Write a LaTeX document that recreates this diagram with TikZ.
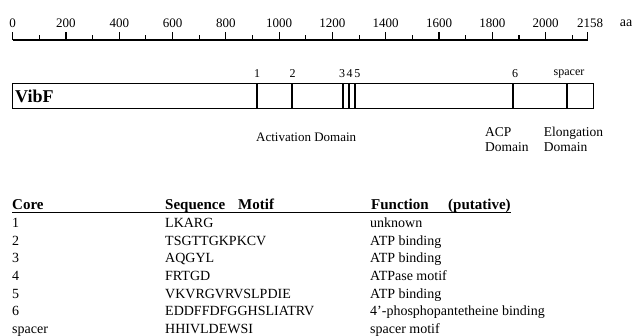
\documentclass[tikz,border=0pt]{standalone}
\usepackage{fontspec}
\setmainfont{Liberation Serif}
\begin{document}
\begin{tikzpicture}[x=1pt,y=-1pt,
  lbl/.style={inner sep=0pt,font=\fontsize{13}{14}\selectfont},
  barlbl/.style={inner sep=0pt,font=\fontsize{12}{13}\selectfont},
  dom/.style={inner sep=0pt,align=left,anchor=north west,font=\fontsize{13.5}{15}\selectfont},
  hdr/.style={inner sep=0pt,anchor=base west,font=\fontsize{15}{16}\selectfont\bfseries},
  cell/.style={inner sep=0pt,anchor=base west,font=\fontsize{14}{15}\selectfont},
  bar/.style={line width=2pt},
  boxline/.style={line width=1.3pt}]
\useasboundingbox (0,0) rectangle (637,335);
% scale axis
\pgfmathsetmacro{\sc}{575/2158}
\draw[line width=1.2pt] (12.7,40) -- (587.7,40);
\foreach \v in {0,200,...,2000}{
  \draw[line width=1.1pt] ({12.7+\v*\sc},40) -- ({12.7+\v*\sc},31.5);
  \node[lbl] at ({12.7+\v*\sc},23) {\v};
}
\foreach \v in {100,300,...,2100}{
  \draw[line width=1.1pt] ({12.7+\v*\sc},40) -- ({12.7+\v*\sc},35);
}
\draw[line width=1.1pt] (587.7,40) -- (587.7,31.5);
\node[lbl] (end) at (590,23) {2158};
\node[lbl,font=\fontsize{14}{15}\selectfont] (aa) at (626,23) {aa};
% protein box
\draw[boxline] (12.3,83.5) rectangle (593.3,108.3);
\node[inner sep=0pt,anchor=west,font=\fontsize{18}{19}\selectfont\bfseries] (vibf) at (15,96.5) {VibF};
\foreach \x in {256.7,292,342.5,348.5,355,513.3,567.3}{
  \draw[bar] (\x,83.5) -- (\x,108.3);
}
\node[barlbl] (l1) at (257,74) {1};
\node[barlbl] (l2) at (292.7,74) {2};
\node[barlbl] (l3) at (342.2,74) {3};
\node[barlbl] (l4) at (349.6,74) {4};
\node[barlbl] (l5) at (357.4,74) {5};
\node[barlbl] (l6) at (515,74) {6};
\node[barlbl] (lsp) at (569,74) {spacer};
% domain labels
\node[lbl,anchor=west] (act) at (256,137) {Activation Domain};
\node[dom] (acp) at (485,127) {ACP\\Domain};
\node[dom] (elo) at (543.7,127) {Elongation\\Domain};
% table
\node[hdr] (hcore) at (12,209.6) {Core};
\node[hdr] (hseq) at (165,209.6) {Sequence};
\node[hdr] (hmot) at (238,209.6) {Motif};
\node[hdr] (hfun) at (371,209.6) {Function};
\node[hdr] (hput) at (448,209.6) {(putative)};
\draw[line width=0.9pt] (12,212) -- (511,212);
\foreach \i/\c/\s/\f in {0/1/LKARG/unknown,
  1/2/TSGTTGKPKCV/ATP binding,
  2/3/AQGYL/ATP binding,
  3/4/FRTGD/ATPase motif,
  4/5/VKVRGVRVSLPDIE/ATP binding,
  5/6/EDDFFDFGGHSLIATRV/4'-phosphopantetheine binding,
  6/spacer/HHIVLDEWSI/spacer motif}{
  \node[cell] (core\i) at (12,{227.6+\i*17.6}) {\c};
  \node[cell] (seq\i) at (165,{227.6+\i*17.6}) {\s};
  \node[cell] (fun\i) at (370,{227.6+\i*17.6}) {\f};
}
\end{tikzpicture}
\end{document}
